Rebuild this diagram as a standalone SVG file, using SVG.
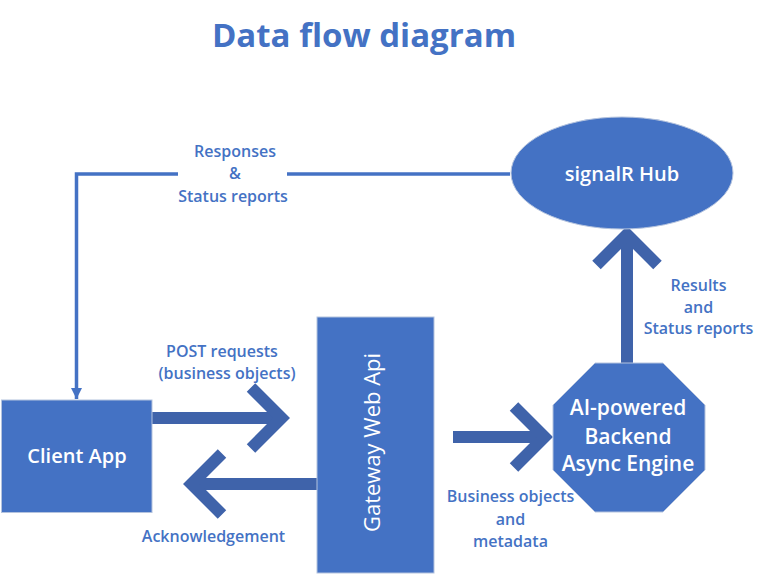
<svg xmlns="http://www.w3.org/2000/svg" width="763" height="574" viewBox="0 0 763 574">
<style>
.node{fill:#4472C4;stroke:#B4C3DE;stroke-width:1}
.ntxt{fill:#FFFFFF;font-family:"Open Sans","Noto Sans",sans-serif;font-weight:600;text-anchor:middle}
.lbl{fill:#4472C4;font-family:"Open Sans","Noto Sans",sans-serif;font-weight:600;font-size:16px;text-anchor:middle}
.big{fill:none;stroke:#3F63AA;stroke-width:12;stroke-linejoin:miter;stroke-miterlimit:10}
.thin{fill:none;stroke:#4472C4;stroke-width:3.5}
</style>
<defs>
<marker id="tri" viewBox="0 0 10 10" refX="10" refY="5" markerWidth="3.2" markerHeight="3.2" orient="auto" markerUnits="strokeWidth">
<path d="M0,0 L10,5 L0,10 Z" fill="#4472C4"/>
</marker>
</defs>
<text x="364" y="47" fill="#4472C4" font-family="'Open Sans','Noto Sans',sans-serif" font-weight="700" font-size="33" text-anchor="middle">Data flow diagram</text>

<g id="connectors">
<polyline class="thin" points="510,174 287,174"/>
<polyline class="thin" points="178,174 76.5,174 76.5,399" marker-end="url(#tri)"/>
<line class="big" x1="152" y1="418" x2="281" y2="418"/>
<polyline class="big" points="251,387.5 281.5,418 251,448.5"/>
<line class="big" x1="317" y1="484" x2="192" y2="484"/>
<polyline class="big" points="222,453.5 191.5,484 222,514.5"/>
<line class="big" x1="453" y1="437" x2="544" y2="437"/>
<polyline class="big" points="514,406.5 544.5,437 514,467.5"/>
<line class="big" x1="627" y1="363" x2="627" y2="235"/>
<polyline class="big" points="596.5,265 627,234.5 657.5,265"/>
<text class="lbl"><tspan x="235" y="157">Responses</tspan><tspan x="235" y="179">&amp;</tspan><tspan x="233" y="202">Status reports</tspan></text>
<text class="lbl"><tspan x="222" y="357">POST requests</tspan><tspan x="227" y="379">(business objects)</tspan></text>
<text class="lbl" x="213.5" y="542">Acknowledgement</text>
<text class="lbl"><tspan x="510.5" y="502">Business objects</tspan><tspan x="510.5" y="525">and</tspan><tspan x="510.5" y="547">metadata</tspan></text>
<text class="lbl"><tspan x="698.5" y="291">Results</tspan><tspan x="698.5" y="313">and</tspan><tspan x="698.5" y="334">Status reports</tspan></text>
</g>

<g id="client">
<rect class="node" x="1.5" y="400" width="150.5" height="112.5"/>
<text class="ntxt" x="77" y="463" font-size="20">Client App</text>
</g>
<g id="gateway">
<rect class="node" x="317" y="317" width="117" height="256"/>
<text x="0" y="0" transform="translate(380,442.5) rotate(-90)" fill="#FFFFFF" font-family="'Open Sans','Noto Sans',sans-serif" font-size="22" text-anchor="middle">Gateway Web Api</text>
</g>
<g id="engine">
<polygon class="node" points="595,363 663,363 705,405 705,470 663,512 595,512 553,470 553,405"/>
<text class="ntxt" font-size="21"><tspan x="628" y="415">AI-powered</tspan><tspan x="628" y="444">Backend</tspan><tspan x="628" y="471">Async Engine</tspan></text>
</g>
<g id="hub">
<ellipse class="node" cx="622" cy="173" rx="111" ry="56"/>
<text class="ntxt" x="622" y="181" font-size="20">signalR Hub</text>
</g>
</svg>
